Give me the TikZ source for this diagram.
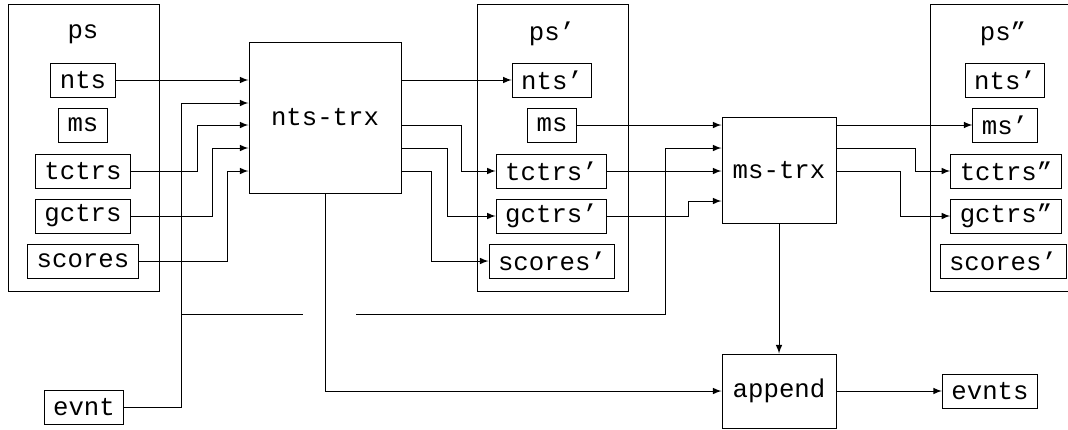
\documentclass[tikz,border=0pt]{standalone}
\usepackage{fontspec}
\newfontfamily\codefont{Liberation Mono}
\usepackage{tikz}
\usetikzlibrary{arrows}
\usetikzlibrary{positioning}

\begin{document}
\begin{tikzpicture}[x=0.5pt, y=-0.5pt, line width=0.5pt, >=latex, font=\codefont\fontsize{12.85}{15}\selectfont, group/.style={draw, minimum width=75.5pt, minimum height=143.5pt, inner sep=0pt}, field/.style={draw, fill=white, minimum height=17pt, inner xsep=4.5pt, inner ysep=0pt}, trx/.style={draw, fill=white, inner sep=0pt}]
	\useasboundingbox (0,0) rectangle (1068,429);
	\begin{scope}
	\clip (0,0) rectangle (1068,429);
	\node[group] (psA) at (83.5,148) {};
	\node[group] (psB) at (552.5,148) {};
	\node[group] (psC) at (1006,148) {};
	\end{scope}
	\node[] (psAT) at (83,34) {ps};
	\node[] (psBT) at (552,34) {ps’};
	\node[] (psCT) at (1003,34) {ps”};
	\node[field] (ntsA) at (83,80) {nts};
	\node[field] (msA) at (83,125) {ms};
	\node[field] (tctrsA) at (83,171) {tctrs};
	\node[field] (gctrsA) at (83,216) {gctrs};
	\node[field] (scoresA) at (83,261) {scores};
	\node[field] (ntsB) at (552,80) {nts’};
	\node[field] (msB) at (552,125) {ms};
	\node[field] (tctrsB) at (551.5,171) {tctrs’};
	\node[field] (gctrsB) at (551.5,216) {gctrs’};
	\node[field] (scoresB) at (552,261) {scores’};
	\node[field] (ntsC) at (1005,80) {nts’};
	\node[field] (msC) at (1005,125) {ms’};
	\node[field] (tctrsC) at (1006,171) {tctrs”};
	\node[field] (gctrsC) at (1006,216) {gctrs”};
	\node[field] (scoresC) at (1003,261) {scores’};
	\node[trx, minimum width=76pt, minimum height=75.5pt] (ntstrx) at (325,117.5) {nts-trx};
	\node[trx, minimum width=57pt, minimum height=53pt] (mstrx) at (779,170) {ms-trx};
	\node[trx, minimum width=57pt, minimum height=37pt] (append) at (779,391) {append};
	\node[field] (evnt) at (84,407) {evnt};
	\node[field] (evnts) at (990,391) {evnts};
	\coordinate (j1) at (181,103);
	\coordinate (j2) at (181,314);
	\coordinate (gapL) at (303,314);
	\coordinate (gapR) at (356,314);
	\coordinate (j3) at (665,148);
	\coordinate (k1) at (197,125);
	\coordinate (k2) at (212,148);
	\coordinate (k3) at (227,171);
	\coordinate (o1) at (461,125);
	\coordinate (o2) at (447,148);
	\coordinate (o3) at (431,171);
	\coordinate (m1) at (688,201);
	\coordinate (p1) at (915,148);
	\coordinate (p2) at (900,171);
	\draw[->] (ntsA) -- (ntstrx.west |- ntsA);
	\draw[->] (evnt) -| (j1) -- (ntstrx.west |- j1);
	\draw (j2) -- (gapL);
	\draw[->] (gapR) -| (j3) -- (mstrx.west |- j3);
	\draw[->] (tctrsA) -| (k1) -- (ntstrx.west |- k1);
	\draw[->] (gctrsA) -| (k2) -- (ntstrx.west |- k2);
	\draw[->] (scoresA) -| (k3) -- (ntstrx.west |- k3);
	\draw[->] (ntstrx.east |- ntsB) -- (ntsB);
	\draw[->] (ntstrx.east |- o1) -- (o1) |- (tctrsB);
	\draw[->] (ntstrx.east |- o2) -- (o2) |- (gctrsB);
	\draw[->] (ntstrx.east |- o3) -- (o3) |- (scoresB);
	\draw[->] (ntstrx) |- (append);
	\draw[->] (msB) -- (mstrx.west |- msB);
	\draw[->] (tctrsB) -- (mstrx.west |- tctrsB);
	\draw[->] (gctrsB) -| (m1) -- (mstrx.west |- m1);
	\draw[->] (mstrx.east |- msC) -- (msC);
	\draw[->] (mstrx.east |- p1) -- (p1) |- (tctrsC);
	\draw[->] (mstrx.east |- p2) -- (p2) |- (gctrsC);
	\draw[->] (mstrx) -- (append);
	\draw[->] (append) -- (evnts);
\end{tikzpicture}
\end{document}
